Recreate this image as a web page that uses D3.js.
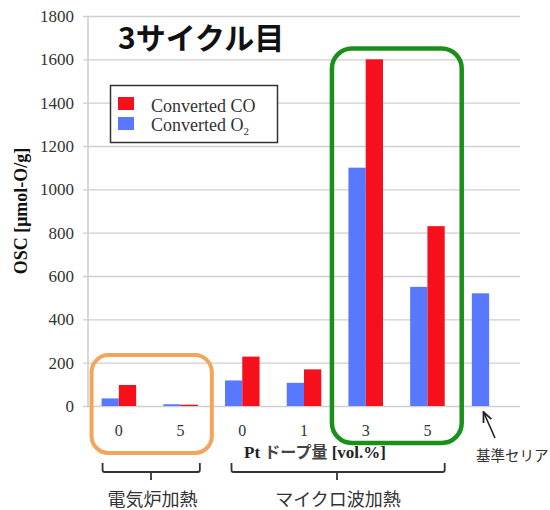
<!DOCTYPE html>
<html><head><meta charset="utf-8">
<script src="https://cdn.jsdelivr.net/npm/d3@7"></script>
<style>body{margin:0;background:#fff}svg{display:block}</style>
</head><body>
<svg id="c" width="550" height="510"></svg>
<script>
const groups = ["E0","E5","M0","M1","M3","M5","REF"];
const tickLabels = ["0","5","0","1","3","5",""];
const seriesNames = ["Converted O2","Converted CO"];
const o2Values = [35, 8, 118, 107, 1100, 550, 520];
const coValues = [97, 6, 228, 169, 1600, 830, null];
const yTicks = [0,200,400,600,800,1000,1200,1400,1600,1800];
const colors = {o2:"#5878ff", co:"#f5101c"};

const svg = d3.select("#c");
const x = d3.scaleBand().domain(groups).range([88,520]).paddingInner(0.44).paddingOuter(0.22);
const sub = d3.scaleBand().domain(["o2","co"]).range([0,x.bandwidth()]);
const y = d3.scaleLinear().domain([0,1800]).range([406,16]);
const serif = "'Liberation Serif','Times New Roman',serif";
const cjk = "'Noto Sans CJK JP','Noto Sans',sans-serif";

// grid
svg.append("g").selectAll("line").data(yTicks).join("line")
  .attr("x1",83).attr("x2",520).attr("y1",d=>y(d)+0.5).attr("y2",d=>y(d)+0.5)
  .attr("stroke","#cfcfcf").attr("stroke-width",1.4);
svg.append("line").attr("x1",88).attr("x2",88).attr("y1",y(1800)).attr("y2",y(0)+1)
  .attr("stroke","#cfcfcf").attr("stroke-width",1.6);

// y axis labels
const yAxis = d3.axisLeft(y).tickValues(yTicks).tickFormat(d3.format("d")).tickSize(0).tickPadding(0);
const ga = svg.append("g").attr("transform","translate(74,0)").call(yAxis)
  .attr("font-family",serif).attr("font-size",17);
ga.select(".domain").remove();
ga.selectAll("text").style("font-family",serif).style("font-size","17px").attr("fill","#333");

svg.append("text").attr("transform",`translate(27,211) rotate(-90)`)
  .attr("text-anchor","middle").attr("font-family",serif).attr("font-weight","bold")
  .attr("font-size",18).attr("fill","#111").text("OSC [μmol-O/g]");

// bars
const data = groups.map((g,i)=>({g, o2:o2Values[i], co:coValues[i]}));
const gb = svg.append("g");
data.forEach(d=>{
  ["o2","co"].forEach(k=>{
    if(d[k]==null) return;
    gb.append("rect").attr("x",x(d.g)+sub(k)).attr("width",sub.bandwidth())
      .attr("y",y(d[k])).attr("height",y(0)-y(d[k])).attr("fill",colors[k]);
  });
});

// x tick labels
svg.append("g").selectAll("text").data(groups.filter((g,i)=>tickLabels[i]!=="")).join("text")
  .attr("x",g=>x(g)+x.bandwidth()/2).attr("y",436).attr("text-anchor","middle")
  .attr("font-family",serif).attr("font-size",16).attr("fill","#333")
  .text(g=>tickLabels[groups.indexOf(g)]);

// x axis title
const xt = svg.append("text").attr("x",315).attr("y",458).attr("text-anchor","middle")
  .attr("font-weight","bold").attr("font-size",17).attr("fill","#222");
xt.append("tspan").attr("font-family",serif).text("Pt ");
xt.append("tspan").attr("font-family",cjk).attr("font-size",16).attr("fill","#444").text("ドープ量");
xt.append("tspan").attr("font-family",serif).text(" [vol.%]");

// annotation boxes
svg.append("rect").attr("x",x("E0")-10).attr("y",y(235)).attr("width",x("E5")+x.bandwidth()+14-(x("E0")-10))
  .attr("height",453-y(235)).attr("rx",17).attr("fill","none").attr("stroke","#f3a55b").attr("stroke-width",4);
svg.append("rect").attr("x",x("M3")-16.5).attr("y",y(1650)).attr("width",x("M5")+x.bandwidth()+17-(x("M3")-16.5))
  .attr("height",443-y(1650)).attr("rx",20).attr("fill","none").attr("stroke","#1a8f1a").attr("stroke-width",4.5);

// legend
const lg = svg.append("g");
lg.append("rect").attr("x",110.5).attr("y",85.5).attr("width",167).attr("height",57)
  .attr("fill","#fff").attr("stroke","#333").attr("stroke-width",1.5);
[["co",97],["o2",117]].forEach(([k,yy])=>{
  lg.append("rect").attr("x",118).attr("y",yy).attr("width",16).attr("height",13).attr("fill",colors[k]);
});
lg.append("text").attr("x",151).attr("y",111.5).attr("font-family",serif).attr("font-size",18).attr("fill","#333").text("Converted CO");
const l2 = lg.append("text").attr("x",151).attr("y",130.5).attr("font-family",serif).attr("font-size",18).attr("fill","#333");
l2.append("tspan").text("Converted O");
l2.append("tspan").attr("font-size",11).attr("dy",4).text("2");

// title
svg.append("text").attr("x",118).attr("y",49).attr("font-family",cjk).attr("font-weight","bold")
  .attr("font-size",30).attr("fill","#111").text("3サイクル目");

// braces
function brace(x0,x1,xm){
  const yt=463, yl=472, yb=480;
  svg.append("path").attr("d",`M${x0},${yt} L${x0},${yl-2} Q${x0},${yl} ${x0+2},${yl} L${x1-2},${yl} Q${x1},${yl} ${x1},${yl-2} L${x1},${yt} M${xm},${yl} L${xm},${yb}`)
    .attr("fill","none").attr("stroke","#333").attr("stroke-width",1.8);
}
brace(x("E0")+1, x("E5")+x.bandwidth()+2, 151);
brace(231.5, x("M5")+x.bandwidth(), 337);

svg.append("text").attr("x",152.5).attr("y",506).attr("text-anchor","middle").attr("font-family",cjk)
  .attr("font-size",18).attr("fill","#333").text("電気炉加熱");
svg.append("text").attr("x",338).attr("y",506).attr("text-anchor","middle").attr("font-family",cjk)
  .attr("font-size",18).attr("fill","#333").text("マイクロ波加熱");

// reference ceria arrow
svg.append("defs").append("marker").attr("id","ah").attr("viewBox","0 0 10 10").attr("refX",9).attr("refY",5)
  .attr("markerWidth",7).attr("markerHeight",7).attr("orient","auto")
  .append("path").attr("d","M0,1 L9,5 L0,9").attr("fill","none").attr("stroke","#222").attr("stroke-width",1.6);
svg.append("line").attr("x1",495).attr("y1",438).attr("x2",483.5).attr("y2",412)
  .attr("stroke","#222").attr("stroke-width",1.6).attr("marker-end","url(#ah)");
svg.append("text").attr("x",476).attr("y",461).attr("font-family",cjk).attr("font-size",14.5).attr("fill","#333").text("基準セリア");
</script>
</body></html>
